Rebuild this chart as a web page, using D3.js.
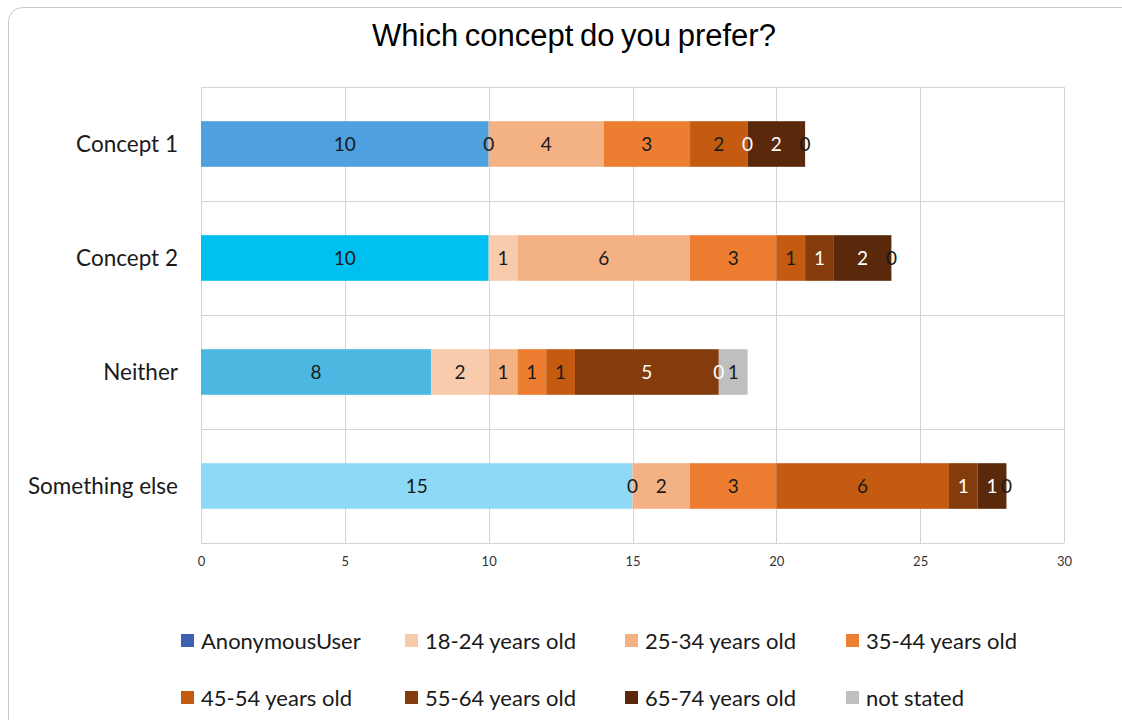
<!DOCTYPE html>
<html>
<head>
<meta charset="utf-8">
<script src="https://cdn.jsdelivr.net/npm/d3@7"></script>
<style>
  html, body { margin: 0; padding: 0; background: #fff; }
  svg { display: block; }
</style>
</head>
<body>
<svg id="chart" width="1122" height="720"></svg>
<script>
// Preference counts per concept, stacked by respondent group
const categories = ["Concept 1", "Concept 2", "Neither", "Something else"];
const seriesNames = ["AnonymousUser", "18-24 years old", "25-34 years old", "35-44 years old",
                     "45-54 years old", "55-64 years old", "65-74 years old", "not stated"];
const anonymousUser = [10, 10, 8, 15];
const age18to24     = [0, 1, 2, 0];
const age25to34     = [4, 6, 1, 2];
const age35to44     = [3, 3, 1, 3];
const age45to54     = [2, 1, 1, 6];
const age55to64     = [0, 1, 5, 1];
const age65to74     = [2, 2, 0, 1];
const notStated     = [0, 0, 1, 0];
const xTicks = [0, 5, 10, 15, 20, 25, 30];

const seriesValues = [anonymousUser, age18to24, age25to34, age35to44, age45to54, age55to64, age65to74, notStated];

// Styling
const seriesColors = ["#3a62b0", "#f8cbad", "#f4b183", "#ed7d31", "#c55a11", "#843c0c", "#5a280a", "#bfbfbf"];
const firstSeriesBarColors = ["#4fa0de", "#00c0f0", "#4cb8e2", "#8ed9f6"];
const labelColors = ["#1a1a1a", "#1a1a1a", "#1a1a1a", "#1a1a1a", "#1a1a1a", "#ffffff", "#ffffff", "#1a1a1a"];

const svg = d3.select("#chart");
const W = 1122, H = 720;
const plot = { left: 201, right: 1064, top: 87, bottom: 543 };

// Chart frame
svg.append("rect")
  .attr("x", 8.5).attr("y", 7.5)
  .attr("width", W + 20).attr("height", H + 20)
  .attr("rx", 14)
  .attr("fill", "#fff").attr("stroke", "#c8c8c8").attr("stroke-width", 1);

// Title
svg.append("text")
  .attr("x", 574).attr("y", 46)
  .attr("text-anchor", "middle")
  .attr("font-family", "Liberation Sans, Arial, sans-serif")
  .attr("font-size", 31)
  .attr("word-spacing", -2)
  .attr("fill", "#000")
  .text("Which concept do you prefer?");

const x = d3.scaleLinear().domain([0, 30]).range([plot.left, plot.right]);
const y = d3.scaleBand().domain(categories).range([plot.top, plot.bottom]).paddingInner(0.6).paddingOuter(0.3);
const band = d3.scaleBand().domain(categories).range([plot.top, plot.bottom]);

// Grid: vertical at ticks, horizontal between categories
const grid = svg.append("g").attr("stroke", "#d4d4d4").attr("stroke-width", 1);
xTicks.forEach(t => {
  grid.append("line")
    .attr("x1", Math.round(x(t)) + 0.5).attr("x2", Math.round(x(t)) + 0.5)
    .attr("y1", plot.top).attr("y2", plot.bottom);
});
categories.forEach(c => {
  grid.append("line")
    .attr("x1", plot.left).attr("x2", plot.right)
    .attr("y1", Math.round(band(c)) + 0.5).attr("y2", Math.round(band(c)) + 0.5);
});
grid.append("line")
  .attr("x1", plot.left).attr("x2", plot.right)
  .attr("y1", plot.bottom + 0.5).attr("y2", plot.bottom + 0.5);

// Stack the series
const rows = categories.map((c, i) => {
  const r = { category: c };
  seriesNames.forEach((s, j) => { r[s] = seriesValues[j][i]; });
  return r;
});
const stacked = d3.stack().keys(seriesNames)(rows);

const barGroup = svg.append("g");
stacked.forEach((layer, si) => {
  barGroup.selectAll(null)
    .data(layer)
    .join("rect")
    .attr("x", d => x(d[0]))
    .attr("y", d => y(d.data.category))
    .attr("width", d => x(d[1]) - x(d[0]))
    .attr("height", y.bandwidth())
    .attr("fill", (d, i) => si === 0 ? firstSeriesBarColors[i] : seriesColors[si]);
});

// Value labels centred in each segment
const labelGroup = svg.append("g")
  .attr("font-family", "Lato, 'Open Sans', sans-serif")
  .attr("font-size", 19)
  .attr("text-anchor", "middle");
stacked.forEach((layer, si) => {
  labelGroup.selectAll(null)
    .data(layer)
    .join("text")
    .attr("x", d => (x(d[0]) + x(d[1])) / 2)
    .attr("y", d => y(d.data.category) + y.bandwidth() / 2 + 7)
    .attr("fill", labelColors[si])
    .text(d => d.data[seriesNames[si]]);
});

// Category axis labels
svg.append("g")
  .attr("font-family", "Lato, 'Open Sans', sans-serif")
  .attr("font-size", 22.5)
  .attr("text-anchor", "end")
  .attr("fill", "#1a1a1a")
  .selectAll("text")
  .data(categories)
  .join("text")
  .attr("x", 178)
  .attr("y", c => y(c) + y.bandwidth() / 2 + 8)
  .text(c => c);

// Value axis
const xAxis = svg.append("g")
  .attr("transform", `translate(0,${plot.bottom})`)
  .call(d3.axisBottom(x).tickValues(xTicks).tickSize(0).tickPadding(14));
xAxis.select(".domain").remove();
xAxis.selectAll("text")
  .attr("font-family", "Lato, 'Open Sans', sans-serif")
  .attr("font-size", 13)
  .attr("fill", "#333");

// Legend
const legendCols = [181, 405, 625, 846];
const legendRows = [641, 698];
const legend = svg.append("g")
  .attr("font-family", "Lato, 'Open Sans', sans-serif")
  .attr("font-size", 22)
  .attr("fill", "#1a1a1a");
seriesNames.forEach((s, i) => {
  const lx = legendCols[i % 4], ly = legendRows[Math.floor(i / 4)];
  legend.append("rect")
    .attr("x", lx).attr("y", ly - 7)
    .attr("width", 13).attr("height", 13)
    .attr("fill", seriesColors[i]);
  legend.append("text")
    .attr("x", lx + 20).attr("y", ly + 8)
    .text(s);
});
</script>
</body>
</html>
